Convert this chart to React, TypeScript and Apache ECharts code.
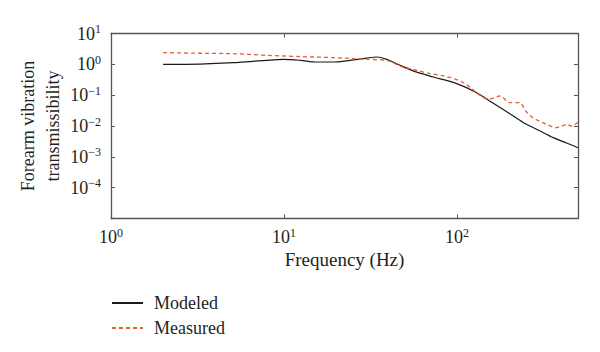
import React, { useEffect, useRef } from "react";
import * as echarts from "echarts";

const modeledFreq = [2, 3.27, 5.1, 7.9, 9.9, 12.4, 15.5, 19.3, 24.1, 30, 34.3, 39.2, 46.9, 58.5, 73, 99.6, 130, 155, 200, 242, 300, 360, 430, 500];
const modeledVal = [1.0, 1.02, 1.13, 1.35, 1.45, 1.35, 1.19, 1.19, 1.35, 1.6, 1.73, 1.45, 0.93, 0.56, 0.387, 0.236, 0.12, 0.064, 0.026, 0.0128, 0.007, 0.0042, 0.0028, 0.00198];

const measuredFreq = [2, 3, 5, 8, 10, 12.4, 19.3, 30, 39.2, 46.9, 58.5, 70, 83.6, 104, 120, 135, 152, 177, 202, 230, 250, 275, 330, 375, 433, 460, 500];
const measuredVal = [2.4, 2.3, 2.22, 1.95, 1.86, 1.78, 1.65, 1.45, 1.35, 0.88, 0.64, 0.5, 0.42, 0.29, 0.175, 0.1, 0.073, 0.094, 0.057, 0.057, 0.03, 0.0186, 0.0112, 0.0088, 0.0112, 0.0099, 0.0133];

const seriesNames = ["Modeled", "Measured"];
const xLabelExponents = [0, 1, 2];
const yLabelExponents = [1, 0, -1, -2, -3, -4];
const xTitle = "Frequency (Hz)";
const yTitle = "Forearm vibration\ntransmissibility";

const FONT = "'Liberation Serif', 'DejaVu Serif', serif";
const TEXT = "#231f20";
const AXIS = "#555555";

function powLabel(v: number, allowed: number[]) {
  const l = Math.log10(v);
  const e = Math.round(l);
  if (Math.abs(l - e) > 1e-6 || allowed.indexOf(e) < 0) return "";
  const s = e < 0 ? "\u2212" + Math.abs(e) : String(e);
  return "{b|10}{s|" + s + "}";
}

const rich = {
  b: { fontFamily: FONT, fontSize: 18, color: TEXT },
  s: { fontFamily: FONT, fontSize: 12, color: TEXT, padding: [0, 0, 9, 0] },
};

export default function App() {
  const ref = useRef<HTMLDivElement>(null);
  useEffect(() => {
    if (!ref.current) return;
    const chart = echarts.init(ref.current, null, { renderer: "svg" });
    const frameAxis = {
      axisLine: { show: true, lineStyle: { color: AXIS, width: 1.3 } },
      axisTick: { show: true, inside: true, length: 4, lineStyle: { color: AXIS, width: 1 } },
      splitLine: { show: false },
    };
    chart.setOption({
      animation: false,
      grid: { left: 111, right: 22, top: 33.5, bottom: 133.5 },
      xAxis: [
        {
          type: "log", logBase: 10, min: 1, max: 500, position: "bottom",
          ...frameAxis,
          axisLabel: { margin: 8, formatter: (v: number) => powLabel(v, xLabelExponents), rich },
        },
        {
          type: "log", logBase: 10, min: 1, max: 500, position: "top",
          ...frameAxis,
          axisLabel: { show: false },
        },
      ],
      yAxis: [
        {
          type: "log", logBase: 10, min: 1e-5, max: 10, position: "left",
          ...frameAxis,
          axisLabel: { margin: 10, formatter: (v: number) => powLabel(v, yLabelExponents), rich },
        },
        {
          type: "log", logBase: 10, min: 1e-5, max: 10, position: "right",
          ...frameAxis,
          axisLabel: { show: false },
        },
      ],
      legend: {
        left: 106, top: 289, orient: "vertical",
        itemWidth: 31, itemHeight: 12, itemGap: 7,
        itemStyle: { opacity: 0 },
        textStyle: { fontFamily: FONT, fontSize: 18, color: TEXT, padding: [0, 0, 0, 6] },
        data: seriesNames,
      },
      graphic: [
        {
          type: "text", x: 40, y: 126, rotation: Math.PI / 2,
          style: { text: yTitle, font: "18px " + FONT, fill: TEXT, align: "center", verticalAlign: "middle", lineHeight: 25 },
        },
        {
          type: "text", x: 344.5, y: 259,
          style: { text: xTitle, font: "19px " + FONT, fill: TEXT, align: "center", verticalAlign: "middle" },
        },
      ],
      series: [
        {
          name: seriesNames[0], type: "line", symbol: "none", smooth: 0.3,
          xAxisIndex: 0, yAxisIndex: 0,
          lineStyle: { color: "#1a1a1a", width: 1.2 },
          itemStyle: { color: "#1a1a1a" },
          data: modeledFreq.map((f, i) => [f, modeledVal[i]]),
        },
        {
          name: seriesNames[1], type: "line", symbol: "none", smooth: 0.3,
          xAxisIndex: 0, yAxisIndex: 0,
          lineStyle: { color: "#e4612b", width: 1.3, type: [4, 3] },
          itemStyle: { color: "#e4612b" },
          data: measuredFreq.map((f, i) => [f, measuredVal[i]]),
        },
      ],
    });
    return () => chart.dispose();
  }, []);
  return <div ref={ref} style={{ width: 600, height: 352, position: "absolute", left: 0, top: 0 }} />;
}
